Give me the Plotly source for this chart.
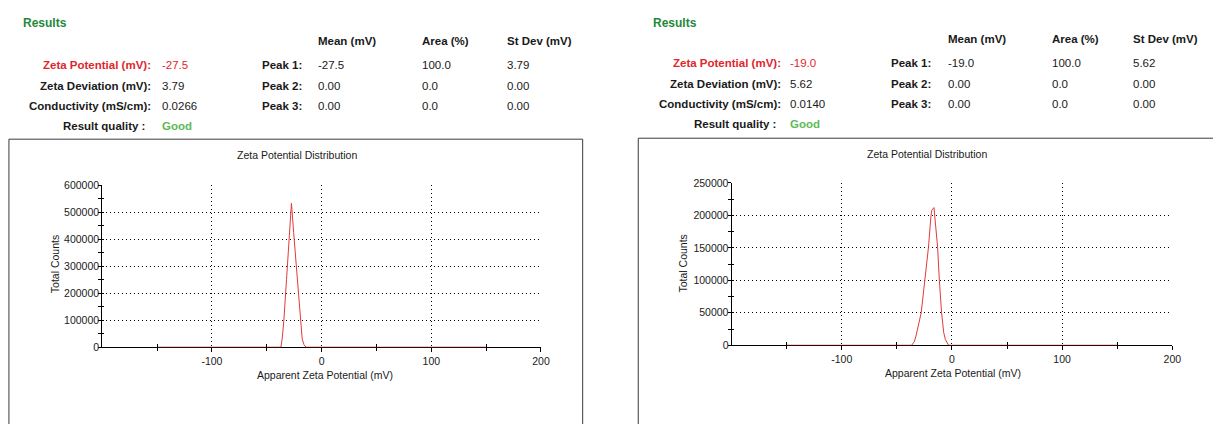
import plotly.graph_objects as go

W, H = 1222, 430
FONT = "Liberation Sans, Arial, sans-serif"

# ---- measured distributions (apparent zeta potential in mV vs total counts) ----
zeta_a_mv = [-150, -37.1, -36, -34.4, -32, -30, -27.5, -25.5, -23, -20.5, -19.3, -17.7, -16, -14.2, 150]
counts_a = [0, 0, 30000, 100000, 250000, 375000, 533000, 425000, 290000, 160000, 100000, 30000, 9000, 0, 0]

zeta_b_mv = [-150, -36.5, -34, -32.4, -27.9, -24.3, -21.3, -19, -18.3, -16.3, -13, -11.4, -9.4, -7.5, -6, -3, 150]
counts_b = [0, 0, 6000, 16000, 50000, 100000, 151000, 200000, 208000, 212000, 151000, 100000, 50000, 20000, 9000, 0, 0]

# ---- results tables ----
summary_labels = ["Zeta Potential (mV):", "Zeta Deviation (mV):", "Conductivity (mS/cm):", "Result quality :"]
summary_a = ["-27.5", "3.79", "0.0266", "Good"]
summary_b = ["-19.0", "5.62", "0.0140", "Good"]

peak_columns = ["Mean (mV)", "Area (%)", "St Dev (mV)"]
peak_labels = ["Peak 1:", "Peak 2:", "Peak 3:"]
peaks_a = [["-27.5", "100.0", "3.79"], ["0.00", "0.0", "0.00"], ["0.00", "0.0", "0.00"]]
peaks_b = [["-19.0", "100.0", "5.62"], ["0.00", "0.0", "0.00"], ["0.00", "0.0", "0.00"]]

# ---- axis ticks ----
x_ticks = [-100, 0, 100, 200]
x_tick_text = ["-100", "0", "100", "200"]
x_minor = [-150, -50, 50, 150]
y_ticks_a = [0, 100000, 200000, 300000, 400000, 500000, 600000]
y_ticks_b = [0, 50000, 100000, 150000, 200000, 250000]

RED = "#e0262c"
LINE_RED = "#e23a3a"
GREEN_HEAD = "#23893a"
GREEN_OK = "#5dbb55"
TXT = "#1a1a1a"

# page layout of each report panel (pixels)
panels = [
    dict(x=zeta_a_mv, y=counts_a, summary=summary_a, peaks=peaks_a,
         yticks=y_ticks_a, ymax=600000, minor_dy=50000,
         plot=(103, 545, 184.3, 351), box=(9, 587, 137),
         results=(21, 18), head_y=36, rows=[61, 82, 103, 123],
         lab_r=154, q_r=148, val_l=161, peak_r=306, cols=[318, 423, 509],
         title=(299, 153), xtitle=(327, 380), ytitle=(55, 266)),
    dict(x=zeta_b_mv, y=counts_b, summary=summary_b, peaks=peaks_b,
         yticks=y_ticks_b, ymax=250000, minor_dy=25000,
         plot=(737, 1181, 182, 349), box=(643, W, 136),
         results=(656, 17), head_y=34, rows=[59, 80, 101, 121],
         lab_r=789, q_r=784, val_l=794, peak_r=940, cols=[953, 1058, 1139],
         title=(934, 152), xtitle=(960, 378), ytitle=(688, 265)),
]


def px(x):
    return x / W


def py(y):
    return 1 - y / H


fig = go.Figure()
annotations = []
shapes = []


def text(s, x, y, size=11.5, color=TXT, bold=False, anchor="left", angle=0):
    annotations.append(dict(
        text=f"<b>{s}</b>" if bold else s,
        x=px(x), y=py(y), xref="paper", yref="paper",
        xanchor=anchor, yanchor="middle", showarrow=False, textangle=angle,
        font=dict(family=FONT, size=size, color=color)))


for i, p in enumerate(panels):
    k = "" if i == 0 else str(i + 1)
    t = str(i + 3)  # companion axes carrying the opposite-side tick marks
    x0, x1, y0, y1 = p["plot"]
    xdom = [px(x0), px(x1)]
    ydom = [py(y1), py(y0)]

    fig.add_trace(go.Scatter(x=p["x"], y=p["y"], mode="lines",
                             line=dict(color=LINE_RED, width=1),
                             xaxis="x" + k, yaxis="y" + k,
                             showlegend=False, hoverinfo="skip"))
    # empty trace so the companion tick axes get drawn
    fig.add_trace(go.Scatter(x=[], y=[], xaxis="x" + t, yaxis="y" + t,
                             showlegend=False, hoverinfo="skip"))

    axis_common = dict(showline=True, linecolor="black", linewidth=1,
                       showgrid=True, gridcolor="black", gridwidth=1, griddash="1px,3px",
                       zeroline=False, tickwidth=1, tickcolor="black",
                       layer="below traces",
                       tickfont=dict(family=FONT, size=10.5, color=TXT))
    tick_only = dict(showline=False, showgrid=False, zeroline=False,
                     showticklabels=False, tickwidth=1, tickcolor="black")
    fig.update_layout(**{
        "xaxis" + k: dict(axis_common, domain=xdom, range=[-200, 200],
                          anchor="y" + k, tickvals=x_ticks, ticktext=x_tick_text,
                          ticks="outside", ticklen=4,
                          minor=dict(tickvals=x_minor, ticks="outside", ticklen=3,
                                     tickcolor="black", showgrid=False)),
        "yaxis" + k: dict(axis_common, domain=ydom, range=[0, p["ymax"]],
                          anchor="x" + k, tickvals=p["yticks"], tickformat="d",
                          ticks="inside", ticklen=2,
                          minor=dict(dtick=p["minor_dy"], ticks="inside", ticklen=2,
                                     tickcolor="black", showgrid=False)),
        "xaxis" + t: dict(tick_only, domain=xdom, range=[-200, 200],
                          overlaying="x" + k, anchor="y" + k,
                          tickvals=x_minor, ticks="inside", ticklen=3),
        "yaxis" + t: dict(tick_only, domain=ydom, range=[0, p["ymax"]],
                          overlaying="y" + k, anchor="x" + k,
                          tickvals=p["yticks"], ticks="outside", ticklen=3,
                          minor=dict(dtick=p["minor_dy"], ticks="outside", ticklen=3,
                                     tickcolor="black", showgrid=False)),
    })

    # report frame around the chart (open at the page edges)
    bx0, bx1, by0 = p["box"]
    if bx1 >= W:
        path = f"M {px(bx0)},0 L {px(bx0)},{py(by0)} L 1,{py(by0)}"
    else:
        path = f"M {px(bx0)},0 L {px(bx0)},{py(by0)} L {px(bx1)},{py(by0)} L {px(bx1)},0"
    shapes.append(dict(type="path", xref="paper", yref="paper", path=path,
                       line=dict(color="#3a3a3a", width=1), layer="below"))

    # chart titles
    text("Zeta Potential Distribution", *p["title"], size=10.5, anchor="center")
    text("Apparent Zeta Potential (mV)", *p["xtitle"], size=10.5, anchor="center")
    text("Total Counts", *p["ytitle"], size=10.5, anchor="center", angle=-90)

    # results block
    text("Results", *p["results"], size=12, color=GREEN_HEAD, bold=True)
    for c, col in enumerate(peak_columns):
        text(col, p["cols"][c], p["head_y"], bold=True)
    for r, lab in enumerate(summary_labels):
        yrow = p["rows"][r]
        if r == 0:
            text(lab, p["lab_r"], yrow, color=RED, bold=True, anchor="right")
            text(p["summary"][r], p["val_l"], yrow, color=RED)
        elif r == 3:
            text(lab, p["q_r"], yrow, bold=True, anchor="right")
            text(p["summary"][r], p["val_l"], yrow, color=GREEN_OK, bold=True)
        else:
            text(lab, p["lab_r"], yrow, bold=True, anchor="right")
            text(p["summary"][r], p["val_l"], yrow)
    for r, lab in enumerate(peak_labels):
        yrow = p["rows"][r]
        text(lab, p["peak_r"], yrow, bold=True, anchor="right")
        for c, v in enumerate(p["peaks"][r]):
            text(v, p["cols"][c], yrow)

fig.update_layout(width=W, height=H, margin=dict(l=0, r=0, t=0, b=0),
                  paper_bgcolor="white", plot_bgcolor="white",
                  annotations=annotations, shapes=shapes,
                  font=dict(family=FONT, color=TXT))

fig.write_html("out.html")
